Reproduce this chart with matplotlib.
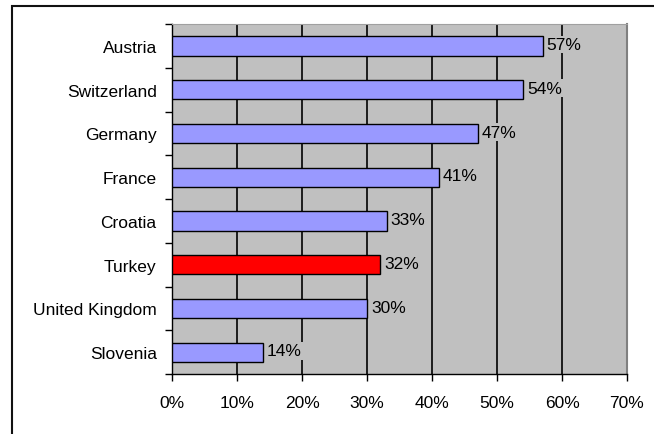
import matplotlib.pyplot as plt
from matplotlib.patches import Rectangle
from matplotlib.ticker import FixedLocator

plt.rcParams['font.family'] = ['Liberation Sans', 'DejaVu Sans']

countries = ['Austria', 'Switzerland', 'Germany', 'France', 'Croatia',
             'Turkey', 'United Kingdom', 'Slovenia']
values = [57, 54, 47, 41, 33, 32, 30, 14]
colors = ['#9999FF'] * 8
colors[5] = '#FF0000'

fig = plt.figure(figsize=(6.54, 4.35), dpi=100)

# outer chart frame
fig.patches.append(Rectangle((12 / 654, -0.05), 1.0, 1 - 7 / 435 + 0.05,
                             transform=fig.transFigure, fill=False,
                             edgecolor='#111111', linewidth=1.5))

ax = fig.add_axes([172 / 654, 1 - 375 / 435, 455 / 654, 350 / 435])
ax.set_facecolor('#C0C0C0')

y = list(range(len(countries)))
ax.barh(y, values, height=0.44, color=colors, edgecolor='black',
        linewidth=1.0, zorder=3)

for yi, v in zip(y, values):
    ax.text(v + 0.6, yi - 0.03, f'{v}%', va='center', ha='left', fontsize=12.5,
            zorder=4,
            bbox=dict(facecolor='#C0C0C0', edgecolor='none', pad=1))

ax.set_xlim(0, 70)
ax.set_ylim(len(countries) - 0.5, -0.5)
ax.set_xticks(range(0, 71, 10))
ax.set_xticklabels([f'{t}%' for t in range(0, 71, 10)], fontsize=12.5)
ax.set_yticks(y)
ax.set_yticklabels(countries, fontsize=12.5)
ax.tick_params(axis='y', length=0, pad=11)
ax.yaxis.set_minor_locator(FixedLocator([i - 0.5 for i in range(len(countries) + 1)]))
ax.tick_params(axis='y', which='minor', length=5, width=1, direction='out')
ax.tick_params(axis='x', length=5, width=1, direction='out', pad=10)

ax.grid(axis='x', color='black', linewidth=1.2, zorder=1)
ax.set_axisbelow(True)
ax.spines['top'].set_color('#A0A0A0')
ax.spines['right'].set_color('#808080')
ax.spines['right'].set_linewidth(1.5)
ax.spines['left'].set_linewidth(1.0)
ax.spines['bottom'].set_linewidth(1.0)

fig.savefig('out.png', dpi=100)
